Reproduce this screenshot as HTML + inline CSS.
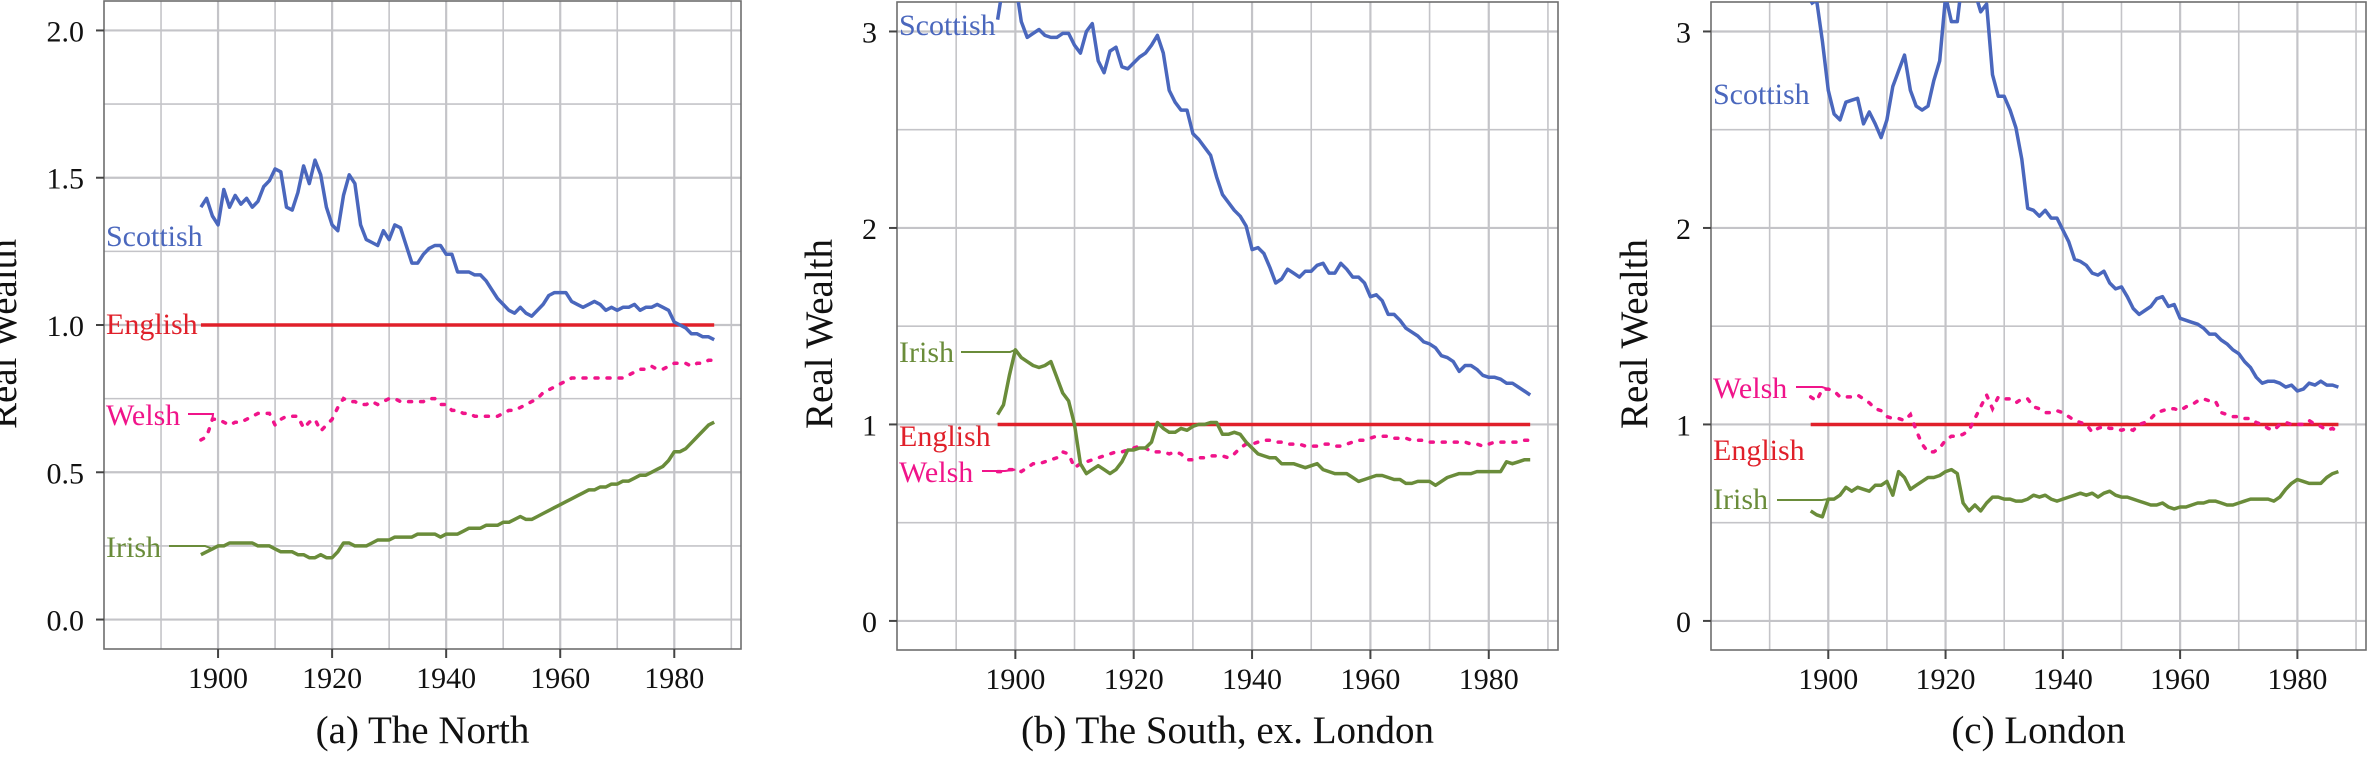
<!DOCTYPE html>
<html><head><meta charset="utf-8">
<style>
html,body{margin:0;padding:0;background:#fff;}
svg{display:block;font-family:"Liberation Serif",serif;}
</style></head>
<body>
<svg id="fig" width="2373" height="759" viewBox="0 0 2373 759" xmlns="http://www.w3.org/2000/svg"></svg>
<script>
const years = [];
for (let y = 1897; y <= 1987; y++) years.push(y);
const xTickLabels = [1900, 1920, 1940, 1960, 1980];
const yTicksA = [0, 0.5, 1.0, 1.5, 2.0];
const yTickLabelsA = ["0.0", "0.5", "1.0", "1.5", "2.0"];
const yTicksBC = [0, 1, 2, 3];
const yTickLabelsBC = ["0", "1", "2", "3"];

const scotA = [1.40,1.43,1.37,1.34,1.46,1.40,1.44,1.41,1.43,1.40,1.42,1.47,1.49,1.53,1.52,1.40,1.39,1.45,1.54,1.48,1.56,1.51,1.40,1.34,1.32,1.44,1.51,1.48,1.34,1.29,1.28,1.27,1.32,1.29,1.34,1.33,1.27,1.21,1.21,1.24,1.26,1.27,1.27,1.24,1.24,1.18,1.18,1.18,1.17,1.17,1.15,1.12,1.09,1.07,1.05,1.04,1.06,1.04,1.03,1.05,1.07,1.10,1.11,1.11,1.11,1.08,1.07,1.06,1.07,1.08,1.07,1.05,1.06,1.05,1.06,1.06,1.07,1.05,1.06,1.06,1.07,1.06,1.05,1.01,1.00,0.99,0.97,0.97,0.96,0.96,0.95];
const welshA = [0.61,0.62,0.68,0.68,0.67,0.66,0.67,0.67,0.68,0.69,0.70,0.70,0.70,0.66,0.68,0.69,0.69,0.69,0.65,0.67,0.68,0.64,0.66,0.68,0.72,0.75,0.74,0.74,0.73,0.73,0.74,0.73,0.74,0.75,0.75,0.74,0.74,0.74,0.74,0.74,0.75,0.75,0.73,0.73,0.71,0.71,0.70,0.70,0.69,0.69,0.69,0.69,0.69,0.70,0.71,0.71,0.72,0.73,0.74,0.75,0.77,0.78,0.79,0.80,0.81,0.82,0.82,0.82,0.82,0.82,0.82,0.82,0.82,0.82,0.82,0.83,0.84,0.85,0.85,0.86,0.85,0.85,0.86,0.87,0.87,0.87,0.86,0.87,0.87,0.88,0.88];
const irishA = [0.22,0.23,0.24,0.25,0.25,0.26,0.26,0.26,0.26,0.26,0.25,0.25,0.25,0.24,0.23,0.23,0.23,0.22,0.22,0.21,0.21,0.22,0.21,0.21,0.23,0.26,0.26,0.25,0.25,0.25,0.26,0.27,0.27,0.27,0.28,0.28,0.28,0.28,0.29,0.29,0.29,0.29,0.28,0.29,0.29,0.29,0.30,0.31,0.31,0.31,0.32,0.32,0.32,0.33,0.33,0.34,0.35,0.34,0.34,0.35,0.36,0.37,0.38,0.39,0.40,0.41,0.42,0.43,0.44,0.44,0.45,0.45,0.46,0.46,0.47,0.47,0.48,0.49,0.49,0.50,0.51,0.52,0.54,0.57,0.57,0.58,0.60,0.62,0.64,0.66,0.67];

const scotB = [3.06,3.25,3.30,3.25,3.05,2.97,2.99,3.01,2.98,2.97,2.97,2.99,2.99,2.93,2.89,3.00,3.04,2.85,2.79,2.90,2.92,2.82,2.81,2.84,2.87,2.89,2.93,2.98,2.89,2.70,2.64,2.60,2.60,2.48,2.45,2.41,2.37,2.26,2.17,2.13,2.09,2.06,2.01,1.89,1.90,1.87,1.80,1.72,1.74,1.79,1.77,1.75,1.78,1.78,1.81,1.82,1.77,1.77,1.82,1.79,1.75,1.75,1.72,1.65,1.66,1.63,1.56,1.56,1.53,1.49,1.47,1.45,1.42,1.41,1.39,1.35,1.34,1.32,1.27,1.30,1.30,1.28,1.25,1.24,1.24,1.23,1.21,1.21,1.19,1.17,1.15];
const welshB = [0.76,0.76,0.77,0.77,0.76,0.78,0.80,0.80,0.81,0.82,0.83,0.86,0.85,0.78,0.80,0.81,0.82,0.83,0.84,0.85,0.86,0.86,0.87,0.88,0.89,0.88,0.86,0.86,0.86,0.85,0.86,0.85,0.82,0.82,0.83,0.83,0.84,0.84,0.84,0.83,0.85,0.88,0.90,0.90,0.91,0.92,0.92,0.91,0.91,0.90,0.90,0.90,0.89,0.89,0.89,0.90,0.90,0.89,0.89,0.90,0.91,0.92,0.92,0.93,0.94,0.94,0.94,0.93,0.93,0.93,0.92,0.92,0.92,0.91,0.91,0.91,0.91,0.91,0.91,0.91,0.90,0.90,0.89,0.90,0.91,0.91,0.91,0.91,0.91,0.92,0.92];
const irishB = [1.05,1.10,1.25,1.38,1.34,1.32,1.30,1.29,1.30,1.32,1.24,1.16,1.12,1.00,0.80,0.75,0.77,0.79,0.77,0.75,0.77,0.81,0.87,0.87,0.88,0.88,0.91,1.01,0.98,0.96,0.96,0.98,0.97,0.99,1.00,1.00,1.01,1.01,0.95,0.95,0.96,0.95,0.91,0.88,0.85,0.84,0.83,0.83,0.80,0.80,0.80,0.79,0.78,0.79,0.80,0.77,0.76,0.75,0.75,0.75,0.73,0.71,0.72,0.73,0.74,0.74,0.73,0.72,0.72,0.70,0.70,0.71,0.71,0.71,0.69,0.71,0.73,0.74,0.75,0.75,0.75,0.76,0.76,0.76,0.76,0.76,0.81,0.80,0.81,0.82,0.82];

const scotC = [3.14,3.16,2.95,2.70,2.58,2.55,2.64,2.65,2.66,2.53,2.59,2.53,2.46,2.55,2.72,2.80,2.88,2.70,2.62,2.60,2.62,2.75,2.85,3.18,3.05,3.05,3.30,3.30,3.20,3.10,3.14,2.78,2.67,2.67,2.60,2.51,2.35,2.10,2.09,2.06,2.09,2.05,2.05,1.99,1.93,1.84,1.83,1.81,1.77,1.76,1.78,1.72,1.69,1.70,1.65,1.59,1.56,1.58,1.60,1.64,1.65,1.60,1.61,1.54,1.53,1.52,1.51,1.49,1.46,1.46,1.43,1.41,1.38,1.36,1.32,1.29,1.24,1.21,1.22,1.22,1.21,1.19,1.20,1.17,1.18,1.21,1.20,1.22,1.20,1.20,1.19];
const welshC = [1.14,1.12,1.18,1.18,1.17,1.14,1.14,1.14,1.15,1.13,1.11,1.08,1.07,1.04,1.03,1.03,1.02,1.05,0.97,0.90,0.86,0.86,0.88,0.92,0.94,0.94,0.95,0.97,1.03,1.09,1.15,1.08,1.14,1.13,1.13,1.11,1.13,1.13,1.09,1.08,1.06,1.06,1.07,1.06,1.04,1.02,1.01,1.00,0.96,0.98,0.99,0.98,0.98,0.97,0.98,0.97,1.00,1.01,1.03,1.06,1.07,1.08,1.08,1.07,1.09,1.10,1.12,1.13,1.12,1.12,1.06,1.05,1.04,1.04,1.03,1.03,1.01,1.00,0.98,0.97,1.00,1.01,1.00,1.00,1.00,1.02,1.00,0.99,0.97,0.98,0.96];
const irishC = [0.56,0.54,0.53,0.62,0.62,0.64,0.68,0.66,0.68,0.67,0.66,0.69,0.69,0.71,0.64,0.76,0.73,0.67,0.69,0.71,0.73,0.73,0.74,0.76,0.77,0.75,0.60,0.56,0.59,0.56,0.60,0.63,0.63,0.62,0.62,0.61,0.61,0.62,0.64,0.63,0.64,0.62,0.61,0.62,0.63,0.64,0.65,0.64,0.65,0.63,0.65,0.66,0.64,0.63,0.63,0.62,0.61,0.60,0.59,0.59,0.60,0.58,0.57,0.58,0.58,0.59,0.60,0.60,0.61,0.61,0.60,0.59,0.59,0.60,0.61,0.62,0.62,0.62,0.62,0.61,0.63,0.67,0.70,0.72,0.71,0.70,0.70,0.70,0.73,0.75,0.76];
const englishLevel = 1;

const NS = "http://www.w3.org/2000/svg";
const svg = document.getElementById("fig");
const COL = {scot:"#4a67bd", eng:"#e0202a", welsh:"#f0148a", irish:"#6a8c3a", grid:"#c4c4c8", box:"#6e6e6e"};

function mk(tag, attrs, parent) {
  const e = document.createElementNS(NS, tag);
  for (const k in attrs) e.setAttribute(k, attrs[k]);
  (parent || svg).appendChild(e);
  return e;
}

function drawPanel(p) {
  const g = mk("g", {});
  
  
  const X = yr => p.L + (yr - 1880) / (1991.7 - 1880) * (p.R - p.L);
  const Y = v => p.B - (v - p.ymin) / (p.ymax - p.ymin) * (p.B - p.T);
  // grid
  for (let yr = 1890; yr <= 1990; yr += 10) {
    const ln = mk("line", {x1:X(yr), x2:X(yr), y1:p.T, y2:p.B, stroke:COL.grid, "stroke-width": yr % 20 === 0 ? 2.2 : 1.6}, g);
    
    
  }
  const step = (p.yticks[1] - p.yticks[0]) / 2;
  for (let v = p.yticks[0]; v <= p.yticks[p.yticks.length - 1] + 1e-9; v += step) {
    const major = p.yticks.some(t => Math.abs(t - v) < 1e-6);
    const ln = mk("line", {x1:p.L, x2:p.R, y1:Y(v), y2:Y(v), stroke:COL.grid, "stroke-width": major ? 2.2 : 1.6}, g);
    
    
  }
  // box
  const box = mk("rect", {x:p.L, y:p.T, width:p.R - p.L, height:p.B - p.T, fill:"none", stroke:COL.box, "stroke-width":1.6}, g);
  
  
  // ticks + labels
  xTickLabels.forEach(yr => {
    mk("line", {x1:X(yr), x2:X(yr), y1:p.B, y2:p.B + 9, stroke:"#444", "stroke-width":2}, g);
    const t = mk("text", {x:X(yr), y:p.B + 39, "text-anchor":"middle", "font-size":30, fill:"#111"}, g);
    t.textContent = yr;
    
    
  });
  p.yticks.forEach((v, i) => {
    mk("line", {x1:p.L - 8, x2:p.L, y1:Y(v), y2:Y(v), stroke:"#444", "stroke-width":2}, g);
    const t = mk("text", {x:p.L - 20, y:Y(v) + 11, "text-anchor":"end", "font-size":30, fill:"#111"}, g);
    t.textContent = p.ylabels[i];
    
    
  });
  const yt = mk("text", {x:0, y:0, "text-anchor":"middle", "font-size":39, fill:"#111", transform:`translate(${p.ytx + 13},334) rotate(-90)`}, g);
  yt.textContent = "Real Wealth";
  
  
  const tt = mk("text", {x:(p.L + p.R) / 2, y:743, "text-anchor":"middle", "font-size":39, fill:"#111"}, g);
  tt.textContent = p.title;
  
  
  // clip
  const cp = mk("clipPath", {id:"clip-" + p.name}, g);
  mk("rect", {x:p.L, y:p.T, width:p.R - p.L, height:p.B - p.T}, cp);
  const sg = mk("g", {"clip-path":`url(#clip-${p.name})`}, g);
  const path = arr => arr.map((v, i) => (i ? "L" : "M") + X(years[i]).toFixed(1) + "," + Y(v).toFixed(1)).join("");
  const eng = mk("line", {x1:X(years[0]), x2:X(years[years.length - 1]), y1:Y(englishLevel), y2:Y(englishLevel), stroke:COL.eng, "stroke-width":3.5}, sg);
  
  
  const w = mk("path", {d:path(p.welsh), fill:"none", stroke:COL.welsh, "stroke-width":3.5, "stroke-dasharray":"3 9", "stroke-linecap":"round"}, sg);
  
  
  const ir = mk("path", {d:path(p.irish), fill:"none", stroke:COL.irish, "stroke-width":3.5, "stroke-linejoin":"round"}, sg);
  
  
  const sc = mk("path", {d:path(p.scot), fill:"none", stroke:COL.scot, "stroke-width":3.5, "stroke-linejoin":"round"}, sg);
  
  
  // series labels
  p.labels.forEach(lb => {
    const t = mk("text", {x:p.L + 2, y:lb.y, "font-size":30, fill:lb.c}, g);
    t.textContent = lb.t;
    
    
    if (lb.lx) {
      const ly = lb.ly;
      mk("path", {d:`M${lb.lx},${ly}L${lb.lx2},${ly}L${X(lb.yr)},${Y(lb.v)}`, fill:"none", stroke:lb.c, "stroke-width":2}, g);
    }
  });
}

drawPanel({name:"panel-north", L:104, R:741, T:1, B:649, ymin:-0.1, ymax:2.1, yticks:yTicksA, ylabels:yTickLabelsA, ytx:3, title:"(a) The North",
  scot:scotA, welsh:welshA, irish:irishA,
  labels:[{t:"Scottish", y:246, c:COL.scot},{t:"English", y:334, c:COL.eng},
    {t:"Welsh", y:425, c:COL.welsh, lx:188, lx2:213, ly:414, yr:1899, v:welshA[2]},
    {t:"Irish", y:557, c:COL.irish, lx:169, lx2:205, ly:546, yr:1899, v:irishA[2]}]});
drawPanel({name:"panel-south", L:897, R:1558, T:2, B:650, ymin:-0.148, ymax:3.15, yticks:yTicksBC, ylabels:yTickLabelsBC, ytx:819, title:"(b) The South, ex. London",
  scot:scotB, welsh:welshB, irish:irishB,
  labels:[{t:"Scottish", y:35, c:COL.scot},
    {t:"Irish", y:362, c:COL.irish, lx:961, lx2:1010, ly:352, yr:1900, v:irishB[3]},
    {t:"English", y:446, c:COL.eng},
    {t:"Welsh", y:482, c:COL.welsh, lx:982, lx2:1005, ly:471, yr:1900, v:welshB[3]}]});
drawPanel({name:"panel-london", L:1711, R:2366, T:2, B:650, ymin:-0.148, ymax:3.15, yticks:yTicksBC, ylabels:yTickLabelsBC, ytx:1634, title:"(c) London",
  scot:scotC, welsh:welshC, irish:irishC,
  labels:[{t:"Scottish", y:104, c:COL.scot},
    {t:"Welsh", y:398, c:COL.welsh, lx:1796, lx2:1822, ly:387, yr:1900, v:welshC[3]},
    {t:"English", y:460, c:COL.eng},
    {t:"Irish", y:509, c:COL.irish, lx:1777, lx2:1822, ly:500, yr:1900, v:irishC[3]}]});
</script>
</body></html>
